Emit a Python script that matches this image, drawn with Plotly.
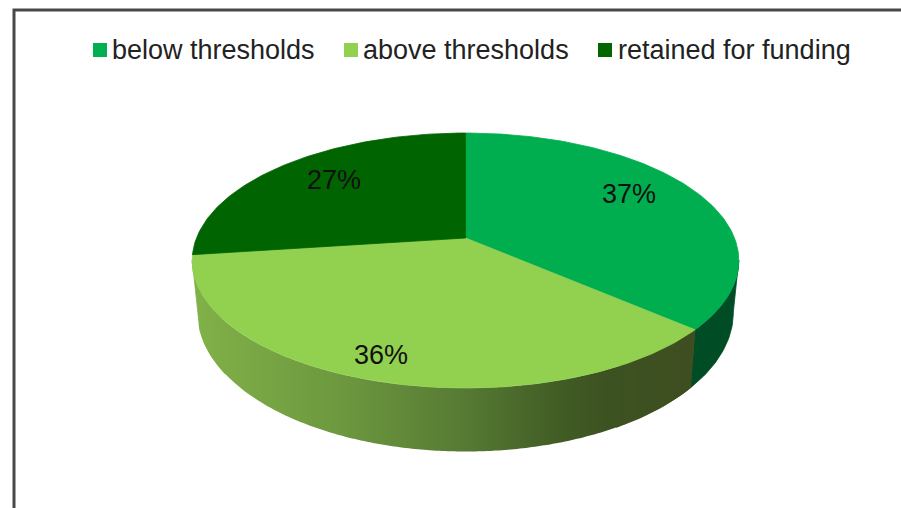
import math
import plotly.graph_objects as go

# ---- data ----
categories = ["below thresholds", "above thresholds", "retained for funding"]
shares = [36.4, 36.5, 27.1]
share_labels = ["37%", "36%", "27%"]

# ---- styles ----
top_colors = ["#00ae4f", "#92d050", "#006400"]
legend_colors = ["#00b050", "#92d050", "#006600"]
FONT = "Liberation Sans"

# ---- perspective projection of the pie disc onto the (pixel sized) axes ----
CX, CY, R = 465.5, 238.0, 269.0
PA, PC = 81.5, -0.1765
LOWER_K_X, LOWER_K_Y, LOWER_DY = 0.98, 1.09, 50.0


def project(theta_deg, r=1.0, lower=False):
    t = math.radians(theta_deg)
    u, v = r * math.sin(t), -r * math.cos(t)
    den = 1 + PC * v
    x = R * u / den
    y = (PA * v + CY) / den - CY
    if lower:
        return CX + LOWER_K_X * x, CY + LOWER_K_Y * y + LOWER_DY
    return CX + x, CY + y


def arc(a, b, lower=False, step=1.0):
    n = max(2, int(abs(b - a) / step) + 1)
    return [project(a + (b - a) * i / (n - 1), lower=lower) for i in range(n)]


def lerp_color(stops, x):
    if x <= stops[0][0]:
        return stops[0][1]
    for (x0, c0), (x1, c1) in zip(stops, stops[1:]):
        if x <= x1:
            f = (x - x0) / (x1 - x0)
            rgb = [
                round(int(c0[i:i + 2], 16) * (1 - f) + int(c1[i:i + 2], 16) * f)
                for i in (1, 3, 5)
            ]
            return "rgb(%d,%d,%d)" % tuple(rgb)
    return stops[-1][1]


def y_at(points, x):
    """y of a polyline (monotonic in x) at screen position x."""
    for (x0, y0), (x1, y1) in zip(points, points[1:]):
        if min(x0, x1) <= x <= max(x0, x1) and x0 != x1:
            return y0 + (y1 - y0) * (x - x0) / (x1 - x0)
    return None


# slice edges, clockwise from 12 o'clock
edges = [0.0]
for s in shares:
    edges.append(edges[-1] + s / sum(shares) * 360)

# horizontal shading of the light wall, by screen position
wall_stops = [
    (200, "#80b048"), (340, "#6d983f"), (465, "#567a33"),
    (560, "#415c25"), (610, "#3c5221"), (700, "#3f4d20"),
]

fig = go.Figure()


def add_poly(points, color, width=0.8):
    xs = [p[0] for p in points] + [points[0][0]]
    ys = [p[1] for p in points] + [points[0][1]]
    fig.add_trace(go.Scatter(
        x=xs, y=ys, mode="lines", fill="toself", fillcolor=color,
        line=dict(color=color, width=width), hoverinfo="skip", showlegend=False,
    ))


FRONT_RIGHT, FRONT_LEFT = 100.0, 260.0

# dark side wall of the first slice
a, b = edges[1], FRONT_RIGHT
add_poly(arc(b, a) + arc(a, b, lower=True), "#004c24")

# shaded side wall of the second slice: underlays for the two silhouette ends ...
a, b = edges[1], FRONT_LEFT
top_edge = arc(a, b, step=0.25)
low_edge = arc(a, b, lower=True, step=0.25)
add_poly(arc(a, a + 20) + arc(a + 20, a, lower=True), "#3f4d20")
add_poly(arc(b - 25, b) + arc(b, b - 25, lower=True), "#80b048")
# ... then upright shading bands in screen space
x_left = round(min(p[0] for p in low_edge)) + 1
x_right = round(max(p[0] for p in low_edge))
BAND = 3
for x0 in range(x_left, x_right, BAND):
    x1 = min(x0 + BAND, x_right)
    t0, t1 = y_at(top_edge, x0), y_at(top_edge, x1)
    l0, l1 = y_at(low_edge, x0), y_at(low_edge, x1)
    if None in (t0, t1, l0, l1):
        continue
    add_poly([(x0, t0), (x1, t1), (x1, l1), (x0, l0)],
             lerp_color(wall_stops, (x0 + x1) / 2), width=0)

# top faces
for i, color in enumerate(top_colors):
    add_poly([(CX, CY)] + arc(edges[i], edges[i + 1]), color)

# data labels
label_pos = [(629, 194), (381, 355), (334, 180)]
annotations = [
    dict(x=x, y=y, text=t, showarrow=False, xanchor="center", yanchor="middle",
         font=dict(family=FONT, size=27, color="#111111"))
    for t, (x, y) in zip(share_labels, label_pos)
]

# legend
legend_x = [(93, 112), (344, 363), (598, 618)]
shapes = [
    dict(type="rect", xref="x", yref="y", x0=14, y0=10, x1=960, y1=560,
         line=dict(color="#484848", width=3), fillcolor="rgba(0,0,0,0)", layer="above"),
]
for name, col, (sx, tx) in zip(categories, legend_colors, legend_x):
    shapes.append(dict(type="rect", xref="x", yref="y", x0=sx, x1=sx + 14, y0=43, y1=57,
                       line=dict(width=0), fillcolor=col))
    annotations.append(dict(x=tx, y=50, text=name, showarrow=False, xanchor="left",
                            yanchor="middle", xshift=-2,
                            font=dict(family=FONT, size=27, color="#222222")))

fig.update_layout(
    width=901, height=508, margin=dict(l=0, r=0, t=0, b=0),
    paper_bgcolor="white", plot_bgcolor="white", showlegend=False,
    xaxis=dict(range=[0, 901], visible=False, fixedrange=True),
    yaxis=dict(range=[508, 0], visible=False, fixedrange=True),
    shapes=shapes, annotations=annotations,
)
fig.write_html("out.html", post_script="document.body.style.margin='0';",
               config={"displayModeBar": False})
